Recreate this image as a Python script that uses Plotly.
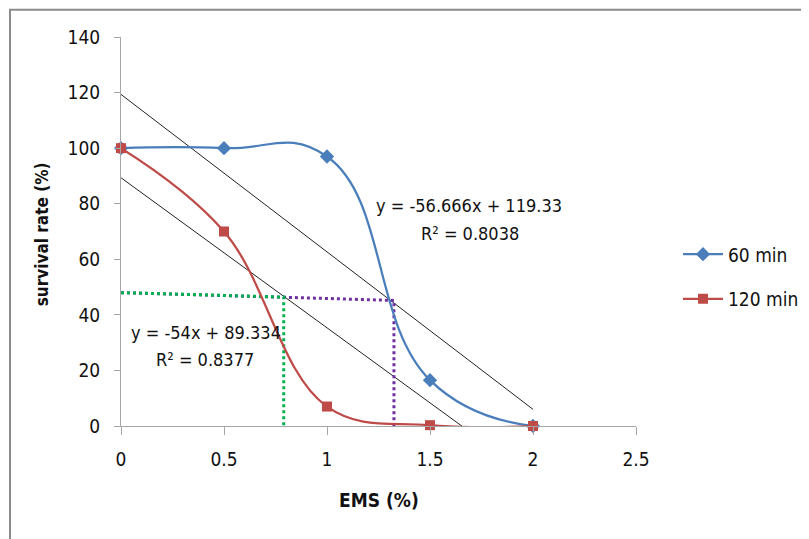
import plotly.graph_objects as go

# ---- data ----
ems = [0, 0.5, 1, 1.5, 2]
surv_60 = [100, 100, 97, 16.5, 0]
surv_120 = [100, 70, 7, 0.3, 0]

trend_60 = {"slope": -56.666, "intercept": 119.33, "r2": 0.8038}
trend_120 = {"slope": -54.0, "intercept": 89.334, "r2": 0.8377}
trend_x = [0, 2]

guide_60_x = [0, 1.325, 1.325]
guide_60_y = [48, 45.2, 0]
guide_120_x = [0, 0.79, 0.79]
guide_120_y = [48, 46.4, 0]

x_ticks = [0, 0.5, 1, 1.5, 2, 2.5]
y_ticks = [0, 20, 40, 60, 80, 100, 120, 140]

FONT = "Liberation Sans Narrow, DejaVu Sans Condensed, Roboto, sans-serif"
BLUE = "#4a7ebb"
RED = "#be4b48"

# page body has an 8px margin; positions below are window pixels
O = 8
W, H = 809 - O, 539 - O
L, R, T, B = 121 - O, 636 - O, 36.7 - O, 425.7 - O


def px(x):
    return (x - O - L) / (R - L)


def py(y):
    return (B - (y - O)) / (B - T)


fig = go.Figure()

# trendlines
for t in (trend_60, trend_120):
    fig.add_trace(go.Scatter(
        x=trend_x, y=[t["slope"] * v + t["intercept"] for v in trend_x],
        mode="lines", line=dict(color="#222222", width=1),
        showlegend=False, hoverinfo="skip"))

# guide dotted lines
fig.add_trace(go.Scatter(x=guide_60_x, y=guide_60_y, mode="lines",
                         line=dict(color="#7030a0", width=3, dash="dot"),
                         showlegend=False, hoverinfo="skip"))
fig.add_trace(go.Scatter(x=guide_120_x, y=guide_120_y, mode="lines",
                         line=dict(color="#00b050", width=3, dash="dot"),
                         showlegend=False, hoverinfo="skip"))

fig.add_trace(go.Scatter(
    x=ems, y=surv_60, name="60 min", mode="lines+markers",
    line=dict(color=BLUE, width=2.25, shape="spline", smoothing=1.3),
    marker=dict(symbol="diamond", size=11, color=BLUE),
    cliponaxis=False, legendgroup="a"))
fig.add_trace(go.Scatter(
    x=ems, y=surv_120, name="120 min", mode="lines+markers",
    line=dict(color=RED, width=2.25, shape="spline", smoothing=1.1),
    marker=dict(symbol="square", size=10, color=RED),
    cliponaxis=False, legendgroup="b"))

# equations
annots = [
    (469, 205, "y = -56.666x + 119.33"),
    (470, 233, "R² = 0.8038"),
    (206, 332, "y = -54x + 89.334"),
    (205, 359, "R² = 0.8377"),
]
for ax, ay, txt in annots:
    fig.add_annotation(
        x=px(ax), y=py(ay), xref="paper", yref="paper",
        text=txt, showarrow=False, font=dict(family=FONT, size=18, color="#111"),
        xanchor="center", yanchor="middle")

# axis titles
fig.add_annotation(x=px(379), y=py(500), xref="paper", yref="paper",
                   text="<b>EMS (%)</b>", showarrow=False,
                   font=dict(family=FONT, size=19, color="#111"),
                   xanchor="center", yanchor="middle")
fig.add_annotation(x=px(42), y=py(234), xref="paper", yref="paper",
                   text="<b>survival rate (%)</b>", showarrow=False, textangle=-90,
                   font=dict(family=FONT, size=17, color="#111"),
                   xanchor="center", yanchor="middle")

# outer frame (top and left edges visible)
fig.add_shape(type="path", xref="paper", yref="paper",
              path="M %f %f L %f %f L %f %f" % (
                  px(10), py(600), px(10), py(9.5), px(850), py(9.5)),
              line=dict(color="#8c8c8c", width=2))

fig.update_layout(
    width=W, height=H,
    margin=dict(l=L, r=W - R, t=T, b=H - B, autoexpand=False),
    paper_bgcolor="white", plot_bgcolor="white",
    font=dict(family=FONT, size=19, color="#111"),
    xaxis=dict(range=[0, 2.5], tickvals=x_ticks, ticktext=[str(v) for v in x_ticks],
               showgrid=False, zeroline=False, showline=True, linecolor="#a6a6a6",
               linewidth=1, ticks="outside", ticklen=8, tickcolor="#a6a6a6",
               tickfont=dict(family=FONT, size=19), ticklabelstandoff=8),
    yaxis=dict(range=[0, 140], tickvals=y_ticks, showgrid=False, zeroline=False,
               showline=True, linecolor="#a6a6a6", linewidth=1, ticks="outside",
               ticklen=6, tickcolor="#a6a6a6", tickfont=dict(family=FONT, size=19),
               ticklabelstandoff=10),
    legend=dict(x=px(678), y=py(235), xanchor="left", yanchor="top",
                font=dict(family=FONT, size=19), itemwidth=40, tracegroupgap=17,
                traceorder="grouped", bgcolor="rgba(0,0,0,0)"),
    showlegend=True,
)

fig.write_html("out.html")
